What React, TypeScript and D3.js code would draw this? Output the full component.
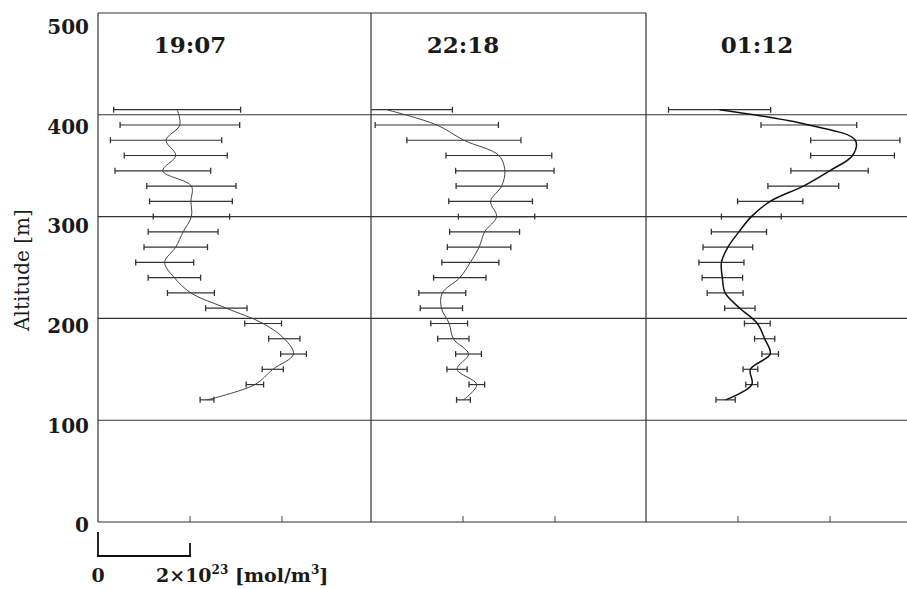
import { useRef, useEffect } from 'react'
import * as d3 from 'd3'

// altitude of each retrieved point [m], top to bottom
const altitudes = [405, 390, 375, 360, 345, 330, 315, 300, 285, 270, 255, 240, 225, 210, 195, 180, 165, 150, 135, 120]
const panelTimes = ['19:07', '22:18', '01:12']

// concentration in units of 1e23 mol/m3, and half width of the error bar
const conc1907 = [1.72, 1.78, 1.48, 1.69, 1.41, 2.03, 2.02, 2.03, 1.85, 1.69, 1.45, 1.66, 2.02, 2.79, 3.59, 4.05, 4.25, 3.80, 3.41, 2.37]
const err1907 = [1.38, 1.30, 1.21, 1.12, 1.04, 0.97, 0.90, 0.83, 0.76, 0.69, 0.63, 0.57, 0.51, 0.45, 0.40, 0.34, 0.28, 0.23, 0.19, 0.15]
const conc2218 = [0.34, 1.43, 2.02, 2.78, 2.91, 2.84, 2.60, 2.73, 2.47, 2.35, 2.16, 1.93, 1.55, 1.53, 1.70, 1.79, 2.12, 1.87, 2.30, 2.01]
const err2218 = [1.43, 1.34, 1.24, 1.15, 1.07, 0.99, 0.91, 0.83, 0.76, 0.69, 0.62, 0.57, 0.51, 0.46, 0.40, 0.34, 0.28, 0.22, 0.17, 0.15]
const conc0112 = [1.60, 3.54, 4.55, 4.49, 3.99, 3.42, 2.70, 2.29, 2.02, 1.78, 1.64, 1.66, 1.72, 2.04, 2.42, 2.58, 2.70, 2.27, 2.30, 1.73]
const err0112 = [1.11, 1.04, 0.97, 0.91, 0.84, 0.77, 0.71, 0.65, 0.60, 0.54, 0.49, 0.44, 0.39, 0.33, 0.28, 0.22, 0.18, 0.16, 0.13, 0.21]

const altitudeTicks = [0, 100, 200, 300, 400, 500]
const gridAltitudes = [100, 200, 300, 400]
const concTicks = [2, 4]

const W = 907
const H = 589
const FONT = '"DejaVu Serif", "Liberation Serif", serif'
const INK = '#1a1a1a'

function App() {
  const svgRef = useRef(null)

  useEffect(() => {
    if (!svgRef.current) return
    const svg = d3.select(svgRef.current)
    svg.selectAll('*').remove()

    const panelLeft = [98, 371, 646]
    const rightEdge = W
    const y = d3.scaleLinear().domain([0, 500]).range([522, 13])
    // the printed tick labels sit slightly below their lines
    const yLabel = d3.scaleLinear().domain([0, 500]).range([525, 27])
    const xFor = (i) => d3.scaleLinear().domain([0, 2]).range([panelLeft[i], panelLeft[i] + 92])

    const series = [
      { conc: conc1907, err: err1907, width: 1, color: '#444' },
      { conc: conc2218, err: err2218, width: 1, color: '#444' },
      { conc: conc0112, err: err0112, width: 1.5, color: '#111' },
    ]

    const g = svg.append('g')

    // horizontal grid lines across all panels
    g.selectAll('.grid')
      .data(gridAltitudes)
      .join('line')
      .attr('x1', panelLeft[0])
      .attr('x2', rightEdge)
      .attr('y1', d => y(d))
      .attr('y2', d => y(d))
      .attr('stroke', '#333')
      .attr('stroke-width', 1.1)

    // frame: bottom, left, top (first two panels), dividers
    g.append('line')
      .attr('x1', panelLeft[0]).attr('x2', rightEdge)
      .attr('y1', y(0)).attr('y2', y(0))
      .attr('stroke', '#333').attr('stroke-width', 1.2)
    g.append('line')
      .attr('x1', panelLeft[0]).attr('x2', panelLeft[0])
      .attr('y1', y(0)).attr('y2', y(500))
      .attr('stroke', '#333').attr('stroke-width', 1.2)
    g.append('line')
      .attr('x1', panelLeft[0]).attr('x2', panelLeft[2])
      .attr('y1', y(500)).attr('y2', y(500))
      .attr('stroke', '#333').attr('stroke-width', 1.1)
    panelLeft.slice(1).forEach(px => {
      g.append('line')
        .attr('x1', px).attr('x2', px)
        .attr('y1', y(0)).attr('y2', y(500))
        .attr('stroke', '#333').attr('stroke-width', 1.2)
    })

    // y tick labels
    g.selectAll('.ylab')
      .data(altitudeTicks)
      .join('text')
      .attr('x', panelLeft[0] - 9)
      .attr('y', d => yLabel(d))
      .attr('dy', '0.36em')
      .attr('text-anchor', 'end')
      .attr('font-family', FONT)
      .attr('font-weight', 'bold')
      .attr('font-size', 20)
      .attr('fill', INK)
      .text(d => d)

    g.append('text')
      .attr('transform', `translate(29, 270) rotate(-90)`)
      .attr('text-anchor', 'middle')
      .attr('font-family', FONT)
      .attr('font-size', 20)
      .attr('fill', INK)
      .text('Altitude [m]')

    const titleOffset = [92, 92, 111]

    series.forEach((s, i) => {
      const x = xFor(i)
      const pts = altitudes.map((alt, k) => ({ alt, v: s.conc[k], e: s.err[k] }))
      const pg = g.append('g')

      // small ticks on the bottom axis
      pg.selectAll('.xt')
        .data(concTicks)
        .join('line')
        .attr('x1', d => x(d)).attr('x2', d => x(d))
        .attr('y1', y(0)).attr('y2', y(0) - 6)
        .attr('stroke', '#444').attr('stroke-width', 1)

      // error bars
      pts.forEach(p => {
        const lo = Math.max(0, p.v - p.e)
        const hi = p.v + p.e
        pg.append('line')
          .attr('x1', x(lo)).attr('x2', x(hi))
          .attr('y1', y(p.alt)).attr('y2', y(p.alt))
          .attr('stroke', '#333').attr('stroke-width', 1.2)
        const caps = p.v - p.e >= 0 ? [lo, hi] : [hi]
        caps.forEach(c => {
          pg.append('line')
            .attr('x1', x(c)).attr('x2', x(c))
            .attr('y1', y(p.alt) - 3).attr('y2', y(p.alt) + 3)
            .attr('stroke', '#333').attr('stroke-width', 1.3)
        })
      })

      const line = d3.line()
        .x(d => x(d.v))
        .y(d => y(d.alt))
        .curve(d3.curveCatmullRom.alpha(0.5))

      pg.append('path')
        .datum(pts)
        .attr('d', line)
        .attr('fill', 'none')
        .attr('stroke', s.color)
        .attr('stroke-width', s.width)

      pg.append('text')
        .attr('x', panelLeft[i] + titleOffset[i])
        .attr('y', 53)
        .attr('text-anchor', 'middle')
        .attr('font-family', FONT)
        .attr('font-weight', 'bold')
        .attr('font-size', 23)
        .attr('fill', INK)
        .text(panelTimes[i])
    })

    // scale bar under the first panel
    const x0 = xFor(0)
    const sb = g.append('g').attr('stroke', '#111').attr('stroke-width', 1.8).attr('fill', 'none')
    sb.append('path').attr('d', `M${x0(0)},532V556H${x0(2)}V543`)

    g.append('text')
      .attr('x', x0(0))
      .attr('y', 582)
      .attr('text-anchor', 'middle')
      .attr('font-family', FONT)
      .attr('font-weight', 'bold')
      .attr('font-size', 19)
      .attr('fill', INK)
      .text('0')

    const unit = g.append('text')
      .attr('x', x0(2) - 34)
      .attr('y', 582)
      .attr('font-family', FONT)
      .attr('font-weight', 'bold')
      .attr('font-size', 19)
      .attr('fill', INK)
    unit.append('tspan').text('2×10')
    unit.append('tspan').attr('font-size', 12).attr('dy', -8).text('23')
    unit.append('tspan').attr('dy', 8).text(' [mol/m')
    unit.append('tspan').attr('font-size', 12).attr('dy', -8).text('3')
    unit.append('tspan').attr('dy', 8).text(']')
  }, [])

  return (
    <svg
      ref={svgRef}
      width={W}
      height={H}
      style={{ position: 'absolute', left: 0, top: 0, background: '#fff' }}
    />
  )
}

export default App
